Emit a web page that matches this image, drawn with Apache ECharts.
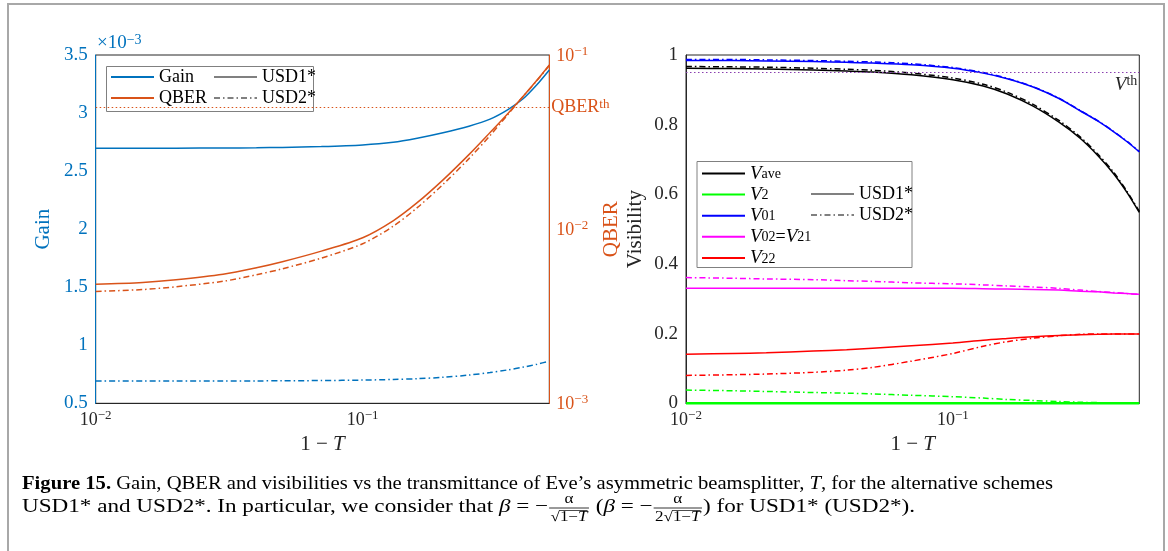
<!DOCTYPE html>
<html>
<head>
<meta charset="utf-8">
<script src="https://cdn.jsdelivr.net/npm/echarts@6/dist/echarts.min.js"></script>
<style>
  html, body { margin: 0; padding: 0; background: #fff; }
  #chart { width: 1168px; height: 551px; }
</style>
</head>
<body>
<div id="chart"></div>
<script>
// 1 - T, shared by both panels
var oneMinusT = [0.01, 0.015, 0.02, 0.03, 0.04, 0.05, 0.07, 0.1, 0.13, 0.16, 0.2, 0.25, 0.3, 0.35, 0.4, 0.45, 0.5];

// left panel: gain in units of 1e-3, QBER absolute
var gainUsd1 = [2.696, 2.696, 2.697, 2.699, 2.701, 2.704, 2.711, 2.725, 2.748, 2.783, 2.830, 2.887, 2.948, 3.030, 3.125, 3.245, 3.370];
var gainUsd2 = [0.692, 0.692, 0.692, 0.693, 0.693, 0.694, 0.696, 0.700, 0.705, 0.712, 0.724, 0.743, 0.765, 0.788, 0.812, 0.837, 0.864];
var qberUsd1 = [4.82e-3, 4.94e-3, 5.12e-3, 5.51e-3, 6.00e-3, 6.50e-3, 7.48e-3, 8.93e-3, 1.117e-2, 1.419e-2, 1.919e-2, 2.679e-2, 3.589e-2, 4.62e-2, 5.81e-2, 7.18e-2, 8.77e-2];
var qberUsd2 = [4.39e-3, 4.50e-3, 4.67e-3, 5.02e-3, 5.47e-3, 5.92e-3, 6.82e-3, 8.25e-3, 1.039e-2, 1.328e-2, 1.808e-2, 2.541e-2, 3.449e-2, 4.56e-2, 5.81e-2, 7.15e-2, 8.71e-2];
var qberThreshold = 0.05;

// right panel: visibilities
var vaveUsd1 = [0.962, 0.961, 0.960, 0.957, 0.954, 0.951, 0.943, 0.929, 0.911, 0.888, 0.853, 0.807, 0.761, 0.711, 0.660, 0.605, 0.548];
var vaveUsd2 = [0.967, 0.966, 0.965, 0.962, 0.959, 0.956, 0.948, 0.934, 0.916, 0.893, 0.858, 0.812, 0.765, 0.715, 0.664, 0.608, 0.551];
var v2Usd1 = [0, 0, 0, 0, 0, 0, 0, 0, 0, 0, 0, 0, 0, 0, 0, 0, 0];
var v2Usd2 = [0.038, 0.036, 0.034, 0.031, 0.029, 0.027, 0.023, 0.019, 0.015, 0.011, 0.008, 0.005, 0.003, 0.002, 0.0015, 0.001, 0.001];
var v01Usd1 = [0.984, 0.984, 0.983, 0.981, 0.979, 0.977, 0.972, 0.962, 0.948, 0.932, 0.908, 0.875, 0.840, 0.810, 0.780, 0.751, 0.722];
var v01Usd2 = [0.987, 0.987, 0.986, 0.984, 0.982, 0.980, 0.975, 0.964, 0.950, 0.933, 0.909, 0.876, 0.841, 0.811, 0.781, 0.752, 0.723];
var v02Usd1 = [0.330, 0.330, 0.330, 0.330, 0.330, 0.330, 0.330, 0.330, 0.329, 0.328, 0.327, 0.325, 0.322, 0.320, 0.317, 0.315, 0.313];
var v02Usd2 = [0.361, 0.359, 0.357, 0.355, 0.352, 0.350, 0.346, 0.343, 0.340, 0.337, 0.334, 0.330, 0.325, 0.321, 0.318, 0.315, 0.313];
var v22Usd1 = [0.141, 0.143, 0.145, 0.150, 0.154, 0.158, 0.165, 0.173, 0.181, 0.186, 0.191, 0.195, 0.197, 0.198, 0.199, 0.199, 0.199];
var v22Usd2 = [0.080, 0.082, 0.084, 0.089, 0.095, 0.103, 0.121, 0.143, 0.164, 0.177, 0.187, 0.194, 0.198, 0.199, 0.199, 0.199, 0.199];
var visThreshold = 0.95;

var SERIF = '"Liberation Serif", "DejaVu Serif", serif';
var BLUE = '#0072BD', ORANGE = '#D95319', AXIS = '#262626', GRAY = '#808080';
var dashDot = [6, 3, 1.5, 3];

function pairs(xs, ys) {
	return xs.map(function (x, i) { return [x, ys[i]]; });
}

function powLabel(v) {
	var lg = Math.log10(v);
	var e = Math.round(lg);
	if (Math.abs(lg - e) > 1e-6) return '';
	return '{b|10}{s|' + (e < 0 ? '\u2212' + (-e) : e) + '}';
}

function powRich(color) {
	return {
		b: { fontSize: 18, fontFamily: SERIF, color: color, lineHeight: 20, verticalAlign: 'bottom' },
		s: { fontSize: 13, fontFamily: SERIF, color: color, lineHeight: 12, verticalAlign: 'top' }
	};
}

function curve(name, xi, yi, ys, color, dashed, width) {
	return {
		name: name, type: 'line', xAxisIndex: xi, yAxisIndex: yi,
		data: ys ? pairs(oneMinusT, ys) : [],
		symbol: 'none', showSymbol: false, smooth: 0.3, clip: false, silent: true,
		itemStyle: { color: color },
		lineStyle: { color: color, width: width || 1.5, type: dashed ? dashDot : 'solid' },
		emphasis: { disabled: true }
	};
}

var series = [
	// legend-only entries
	curve('Gain', 0, 0, null, BLUE, false, 2),
	curve('QBER', 0, 0, null, ORANGE, false, 2),
	curve('USD1*', 0, 0, null, GRAY, false, 2),
	curve('USD2*', 0, 0, null, GRAY, true, 1.5),
	curve('Vave', 1, 2, null, '#000000', false, 2),
	curve('V2', 1, 2, null, '#00ff00', false, 2),
	curve('V01', 1, 2, null, '#0000ff', false, 2),
	curve('V02=V21', 1, 2, null, '#ff00ff', false, 2),
	curve('V22', 1, 2, null, '#ff0000', false, 2),

	curve('Gain USD1', 0, 0, gainUsd1, BLUE, false),
	curve('Gain USD2', 0, 0, gainUsd2, BLUE, true),
	curve('QBER USD1', 0, 1, qberUsd1, ORANGE, false),
	curve('QBER USD2', 0, 1, qberUsd2, ORANGE, true),

	curve('V2 USD1', 1, 2, v2Usd1, '#00ff00', false, 2.5),
	curve('V2 USD2', 1, 2, v2Usd2, '#00ff00', true),
	curve('V22 USD1', 1, 2, v22Usd1, '#ff0000', false),
	curve('V22 USD2', 1, 2, v22Usd2, '#ff0000', true),
	curve('V02 USD1', 1, 2, v02Usd1, '#ff00ff', false),
	curve('V02 USD2', 1, 2, v02Usd2, '#ff00ff', true),
	curve('V01 USD1', 1, 2, v01Usd1, '#0000ff', false),
	curve('V01 USD2', 1, 2, v01Usd2, '#0000ff', true),
	curve('Vave USD1', 1, 2, vaveUsd1, '#000000', false),
	curve('Vave USD2', 1, 2, vaveUsd2, '#000000', true)
];

// threshold lines
series[11].markLine = {
	silent: true, symbol: ['none', 'none'], animation: false,
	data: [{ yAxis: qberThreshold }],
	lineStyle: { color: ORANGE, width: 1, type: [1.5, 2.5] },
	label: {
		position: 'end', distance: 2, formatter: '{b|QBER}{s|th}',
		rich: {
			b: { fontSize: 18, fontFamily: SERIF, color: ORANGE, lineHeight: 18, verticalAlign: 'bottom' },
			s: { fontSize: 13, fontFamily: SERIF, color: ORANGE, lineHeight: 12, verticalAlign: 'top' }
		}
	},
	emphasis: { disabled: true }
};
series[21].markLine = {
	silent: true, symbol: ['none', 'none'], animation: false,
	data: [{ yAxis: visThreshold }],
	lineStyle: { color: '#8a3fb0', width: 1, type: [1.5, 2.5] },
	label: {
		position: 'insideEndBottom', distance: 2, formatter: '{i|V}{s|th}',
		rich: {
			i: { fontSize: 19, fontFamily: SERIF, fontStyle: 'italic', color: AXIS, lineHeight: 20, verticalAlign: 'bottom' },
			s: { fontSize: 14, fontFamily: SERIF, color: AXIS, lineHeight: 14, verticalAlign: 'top' }
		}
	},
	emphasis: { disabled: true }
};

var visNames = {
	'Vave': '{i|V}{sub|ave}',
	'V2': '{i|V}{sub|2}',
	'V01': '{i|V}{sub|01}',
	'V02=V21': '{i|V}{sub|02}{n|=}{i|V}{sub|21}',
	'V22': '{i|V}{sub|22}'
};
var visRich = {
	i: { fontSize: 19, fontFamily: SERIF, fontStyle: 'italic', color: '#000', lineHeight: 16, verticalAlign: 'middle' },
	n: { fontSize: 18, fontFamily: SERIF, color: '#000', lineHeight: 16, verticalAlign: 'middle' },
	sub: { fontSize: 14, fontFamily: SERIF, color: '#000', lineHeight: 9, verticalAlign: 'bottom' }
};
var legendText = { fontSize: 18, fontFamily: SERIF, color: '#000', lineHeight: 14 };

function legendCol(names, left, top, extra) {
	var l = {
		data: names, orient: 'vertical', left: left, top: top,
		itemWidth: 43, itemHeight: 14, itemGap: 3, selectedMode: false,
		padding: 0, textStyle: legendText, z: 5,
		itemStyle: { opacity: 0, borderWidth: 0 }
	};
	for (var k in extra) l[k] = extra[k];
	return l;
}

// caption layout: measure with canvas, squeeze to the reference width
var ctx = document.createElement('canvas').getContext('2d');
function measure(parts, size) {
	var w = 0;
	parts.forEach(function (p) {
		ctx.font = (p.st === 'i' ? 'italic ' : '') + (p.st === 'b' ? 'bold ' : '') + size + 'px ' + SERIF;
		w += ctx.measureText(p.t).width;
	});
	return w;
}
function richStr(parts) {
	return parts.map(function (p) { return '{' + (p.st || 'n') + '|' + p.t + '}'; }).join('');
}
function capRich(size) {
	return {
		n: { fontSize: size, fontFamily: SERIF, fill: '#000' },
		b: { fontSize: size, fontFamily: SERIF, fontWeight: 'bold', fill: '#000' },
		i: { fontSize: size, fontFamily: SERIF, fontStyle: 'italic', fill: '#000' }
	};
}

var CAP = 19, SMALL = 14;
var line1 = [
	{ t: 'Figure 15.', st: 'b' },
	{ t: ' Gain, QBER and visibilities vs the transmittance of Eve\u2019s asymmetric beamsplitter, ' },
	{ t: 'T', st: 'i' },
	{ t: ', for the alternative schemes' }
];
var sx = 1031 / measure(line1, CAP);

var graphics = [
	{ type: 'rect', z: 0, silent: true, shape: { x: 8, y: 4, width: 1156, height: 600 }, style: { fill: 'none', stroke: '#a8a8a8', lineWidth: 2 } },
	{ type: 'rect', z: 3, silent: true, shape: { x: 106.5, y: 66.5, width: 207, height: 45 }, style: { fill: '#fff', stroke: GRAY, lineWidth: 1 } },
	{ type: 'rect', z: 3, silent: true, shape: { x: 697, y: 161.5, width: 215, height: 106 }, style: { fill: '#fff', stroke: GRAY, lineWidth: 1 } },
	{ type: 'text', z: 5, silent: true, x: 97, y: 43, style: { text: '{n|\u00d710}{s|\u22123}', verticalAlign: 'middle',
		rich: { n: { fontSize: 19, fontFamily: SERIF, fill: BLUE, lineHeight: 20, verticalAlign: 'bottom' }, s: { fontSize: 14, fontFamily: SERIF, fill: BLUE, lineHeight: 13, verticalAlign: 'top' } } } },
	{ type: 'text', z: 5, silent: true, x: 22, y: 484, scaleX: sx, style: { text: richStr(line1), rich: capRich(CAP), verticalAlign: 'middle' } }
];

// second caption line with two stacked fractions
function rootDen(pre) { return [{ t: pre + '\u221a' }, { t: '1\u2212' }, { t: 'T', st: 'i' }]; }
var line2 = [
	{ parts: [{ t: 'USD1* and USD2*. In particular, we consider that ' }, { t: '\u03b2', st: 'i' }, { t: ' = \u2212' }] },
	{ num: [{ t: '\u03b1' }], den: rootDen('') },
	{ parts: [{ t: ' (' }, { t: '\u03b2', st: 'i' }, { t: ' = \u2212' }] },
	{ num: [{ t: '\u03b1' }], den: rootDen('2') },
	{ parts: [{ t: ') for USD1* (USD2*).' }] }
];
function pieceWidth(p) {
	return p.parts ? measure(p.parts, CAP) : Math.max(measure(p.num, SMALL), measure(p.den, SMALL)) + 4;
}
var sx2 = 893 / line2.reduce(function (a, p) { return a + pieceWidth(p); }, 0);
var cursor = 22, y2 = 507;
line2.forEach(function (p) {
	var w = pieceWidth(p) * sx2;
	if (p.parts) {
		graphics.push({ type: 'text', z: 5, silent: true, x: cursor, y: y2, scaleX: sx2,
			style: { text: richStr(p.parts), rich: capRich(CAP), verticalAlign: 'middle' } });
	} else {
		var wn = measure(p.num, SMALL) * sx2, wd = measure(p.den, SMALL) * sx2;
		graphics.push({ type: 'text', z: 5, silent: true, x: cursor + (w - wn) / 2, y: y2 - 8, scaleX: sx2,
			style: { text: richStr(p.num), rich: capRich(SMALL), verticalAlign: 'middle' } });
		graphics.push({ type: 'line', z: 5, silent: true, shape: { x1: cursor + 1, y1: y2 + 1, x2: cursor + w - 1, y2: y2 + 1 },
			style: { stroke: '#000', lineWidth: 0.8 } });
		var dx = cursor + (w - wd) / 2;
		graphics.push({ type: 'text', z: 5, silent: true, x: dx, y: y2 + 10, scaleX: sx2,
			style: { text: richStr(p.den), rich: capRich(SMALL), verticalAlign: 'middle' } });
		var rootStart = dx + measure([p.den[0]], SMALL) * sx2 - 0.5;
		graphics.push({ type: 'line', z: 5, silent: true, shape: { x1: rootStart, y1: y2 + 3.5, x2: dx + wd, y2: y2 + 3.5 },
			style: { stroke: '#000', lineWidth: 0.7 } });
	}
	cursor += w;
});

var xAxisBase = {
	type: 'log', logBase: 10, min: 0.01, max: 0.5,
	name: '1 \u2212 {i|T}', nameLocation: 'middle', nameGap: 30,
	nameTextStyle: { fontSize: 21, fontFamily: SERIF, color: AXIS,
		rich: { i: { fontSize: 21, fontFamily: SERIF, fontStyle: 'italic', color: AXIS } } },
	axisLine: { show: true, lineStyle: { color: AXIS, width: 1 } },
	axisTick: { show: false }, minorTick: { show: false },
	splitLine: { show: false },
	axisLabel: { margin: 6, formatter: powLabel, rich: powRich(AXIS), showMinLabel: true, showMaxLabel: true }
};

var option = {
	animation: false,
	backgroundColor: '#fff',
	grid: [
		{ left: 95.7, top: 55, width: 453.6, height: 348.3, show: true, borderColor: AXIS, borderWidth: 1, outerBoundsMode: 'none' },
		{ left: 686, top: 55, width: 453.3, height: 348.3, show: true, borderColor: AXIS, borderWidth: 1, outerBoundsMode: 'none' }
	],
	xAxis: [
		Object.assign({ gridIndex: 0 }, xAxisBase),
		Object.assign({ gridIndex: 1 }, xAxisBase)
	],
	yAxis: [
		{
			gridIndex: 0, type: 'value', position: 'left', min: 0.5, max: 3.5, interval: 0.5, z: 3,
			name: 'Gain', nameLocation: 'middle', nameGap: 42, nameRotate: 90,
			nameTextStyle: { fontSize: 21, fontFamily: SERIF, color: BLUE },
			axisLine: { show: true, lineStyle: { color: BLUE, width: 1 } },
			axisTick: { show: false }, splitLine: { show: false },
			axisLabel: { margin: 8, fontSize: 19, fontFamily: SERIF, color: BLUE,
				formatter: function (v) { return String(+v.toFixed(2)); } }
		},
		{
			gridIndex: 0, type: 'log', logBase: 10, position: 'right', min: 0.001, max: 0.1, z: 3,
			name: 'QBER', nameLocation: 'middle', nameGap: 52, nameRotate: 90,
			nameTextStyle: { fontSize: 21, fontFamily: SERIF, color: ORANGE },
			axisLine: { show: true, lineStyle: { color: ORANGE, width: 1 } },
			axisTick: { show: false }, minorTick: { show: false }, splitLine: { show: false },
			axisLabel: { margin: 7, formatter: powLabel, rich: powRich(ORANGE) }
		},
		{
			gridIndex: 1, type: 'value', position: 'left', min: 0, max: 1, interval: 0.2, z: 3,
			name: 'Visibility', nameLocation: 'middle', nameGap: 40, nameRotate: 90,
			nameTextStyle: { fontSize: 21, fontFamily: SERIF, color: AXIS },
			axisLine: { show: true, lineStyle: { color: AXIS, width: 1 } },
			axisTick: { show: false }, splitLine: { show: false },
			axisLabel: { margin: 8, fontSize: 19, fontFamily: SERIF, color: AXIS,
				formatter: function (v) { return (v === 0 || v === 1) ? String(v) : v.toFixed(1); } }
		}
	],
	legend: [
		legendCol(['Gain', 'QBER'], 110, 68),
		legendCol(['USD1*', 'USD2*'], 213, 68),
		legendCol(['Vave', 'V2', 'V01', 'V02=V21', 'V22'], 701, 164, {
			itemGap: 2.1,
			formatter: function (n) { return visNames[n] || n; },
			textStyle: { fontSize: 18, fontFamily: SERIF, color: '#000', lineHeight: 14, rich: visRich }
		}),
		legendCol(['USD1*', 'USD2*'], 810, 185)
	],
	graphic: graphics,
	series: series
};

var chart = echarts.init(document.getElementById('chart'));
chart.setOption(option);
</script>
</body>
</html>
